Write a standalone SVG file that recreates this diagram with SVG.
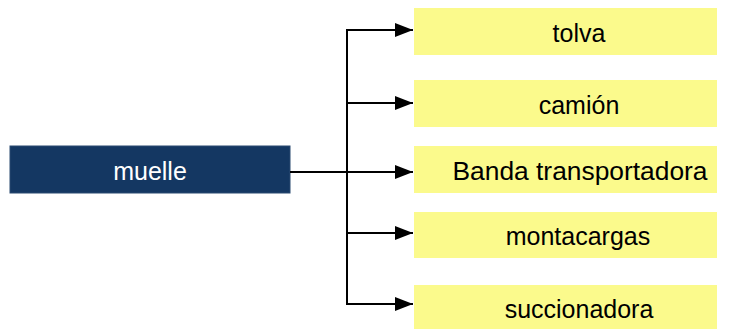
<svg xmlns="http://www.w3.org/2000/svg" width="730" height="329" viewBox="0 0 730 329">
<style>
.y{fill:#fbfa8c}
.t{font-family:"Liberation Sans",Arial,sans-serif;font-size:25px;fill:#000;text-anchor:middle}
.c{stroke:#000;stroke-width:2;fill:none}
</style>
<defs>
<marker id="a" markerWidth="18" markerHeight="14" refX="18" refY="7" orient="auto" markerUnits="userSpaceOnUse" viewBox="0 0 18 14">
<path d="M0,0 L18,7 L0,14 z" fill="#000"/>
</marker>
</defs>
<rect width="730" height="329" fill="#fff"/>
<g id="muelle">
<rect x="10" y="146" width="280" height="47" fill="#143762" stroke="#2a4a70" stroke-width="1"/>
<text class="t" x="150" y="180" style="fill:#fff">muelle</text>
</g>
<g id="tolva"><rect class="y" x="414" y="8" width="303" height="47"/><text class="t" x="579" y="42">tolva</text></g>
<g id="camion"><rect class="y" x="414" y="80" width="303" height="47"/><text class="t" x="579" y="114">camión</text></g>
<g id="banda"><rect class="y" x="414" y="146" width="303" height="47"/><text class="t" x="580" y="180" textLength="255" lengthAdjust="spacingAndGlyphs">Banda transportadora</text></g>
<g id="montacargas"><rect class="y" x="414" y="212" width="303" height="46"/><text class="t" x="578" y="245">montacargas</text></g>
<g id="succionadora"><rect class="y" x="414" y="285" width="303" height="44"/><text class="t" x="579" y="318">succionadora</text></g>
<g id="connectors">
<path class="c" d="M290,172 H347"/>
<path class="c" d="M347,29 V305"/>
<path class="c" d="M346,30 H413" marker-end="url(#a)"/>
<path class="c" d="M346,103 H413" marker-end="url(#a)"/>
<path class="c" d="M346,172 H413" marker-end="url(#a)"/>
<path class="c" d="M346,233 H413" marker-end="url(#a)"/>
<path class="c" d="M346,304 H413" marker-end="url(#a)"/>
</g>
</svg>
